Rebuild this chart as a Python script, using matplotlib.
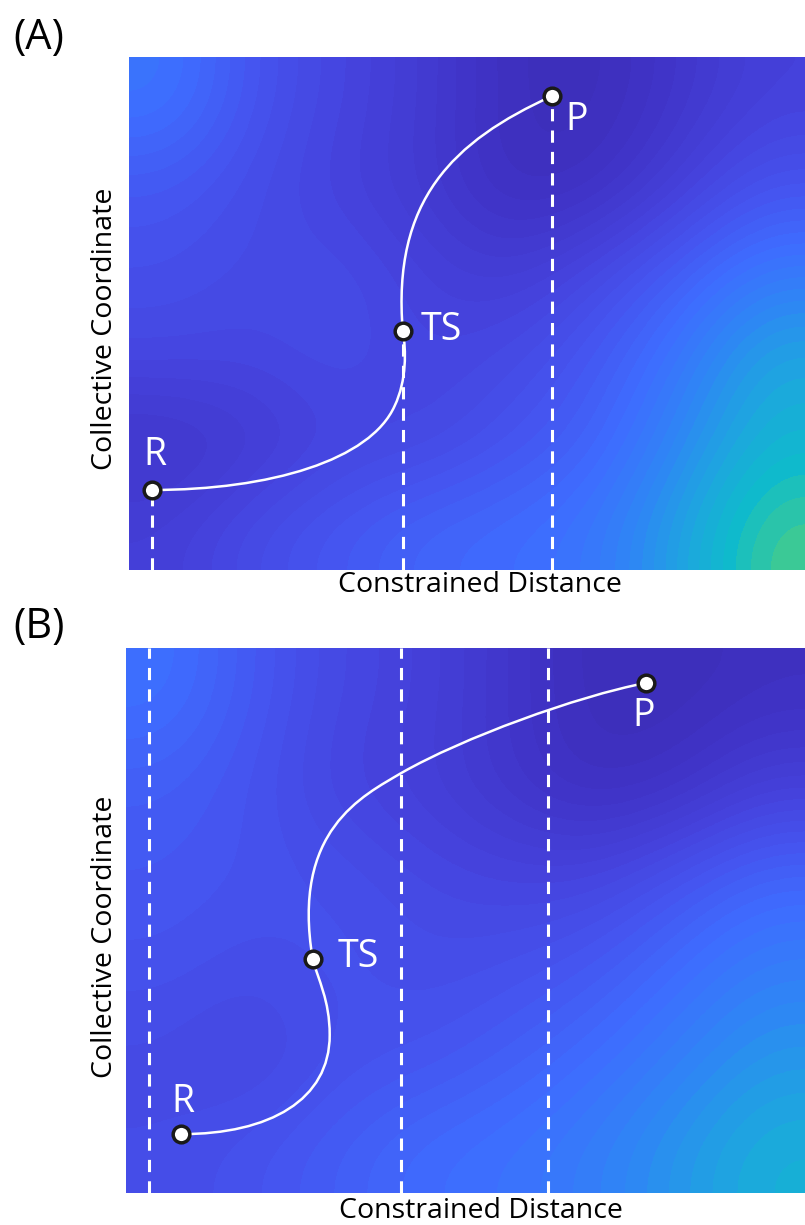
import numpy as np
import matplotlib
matplotlib.use("Agg")
import matplotlib.pyplot as plt
from matplotlib.path import Path
from matplotlib.patches import PathPatch
from matplotlib.colors import LinearSegmentedColormap, BoundaryNorm

plt.rcParams['font.family'] = ['Open Sans', 'DejaVu Sans']

# landscape colour values (rows top -> bottom, cols left -> right)
field_a = [
    [0.60, 0.42, 0.33, 0.25, 0.12, 0.10, 0.20, 0.30],
    [0.45, 0.38, 0.30, 0.24, 0.12, 0.14, 0.28, 0.42],
    [0.40, 0.36, 0.38, 0.30, 0.25, 0.35, 0.48, 0.62],
    [0.35, 0.34, 0.38, 0.32, 0.36, 0.45, 0.60, 0.80],
    [0.18, 0.24, 0.32, 0.34, 0.42, 0.50, 0.68, 0.86],
    [0.28, 0.38, 0.45, 0.52, 0.55, 0.60, 0.78, 0.98],
]
field_b = [
    [0.58, 0.45, 0.35, 0.30, 0.20, 0.10, 0.10, 0.14],
    [0.48, 0.42, 0.32, 0.28, 0.20, 0.12, 0.16, 0.28],
    [0.45, 0.42, 0.40, 0.35, 0.32, 0.32, 0.42, 0.52],
    [0.42, 0.38, 0.42, 0.38, 0.40, 0.45, 0.55, 0.64],
    [0.36, 0.32, 0.40, 0.42, 0.48, 0.55, 0.64, 0.74],
    [0.38, 0.42, 0.48, 0.55, 0.58, 0.64, 0.74, 0.84],
]

# states (x = constrained distance, y = collective coordinate, both 0..1)
states = ["R", "TS", "P"]
states_a = [(0.034, 0.156), (0.405, 0.466), (0.626, 0.924)]
states_b = [(0.081, 0.108), (0.275, 0.429), (0.766, 0.936)]
label_pos_a = [(0.038, 0.224), (0.462, 0.468), (0.662, 0.877)]
label_pos_b = [(0.084, 0.167), (0.342, 0.433), (0.763, 0.875)]

# path as cubic bezier control points
path_a = [(0.034, 0.156),
          (0.209, 0.156), (0.357, 0.214), (0.393, 0.320),
          (0.411, 0.370), (0.410, 0.429), (0.405, 0.466),
          (0.389, 0.721), (0.479, 0.836), (0.626, 0.924)]
path_b = [(0.081, 0.108),
          (0.212, 0.108), (0.300, 0.171), (0.300, 0.290),
          (0.300, 0.354), (0.283, 0.391), (0.275, 0.429),
          (0.243, 0.666), (0.349, 0.729), (0.406, 0.771),
          (0.496, 0.835), (0.663, 0.911), (0.766, 0.936)]

# dashed windows
windows_a = [0.034, 0.405, 0.626]
windows_b = [0.034, 0.405, 0.622]

cmap = LinearSegmentedColormap.from_list("pes", [
    (0.00, "#3a2aa8"), (0.15, "#3f32c4"), (0.30, "#4542dc"),
    (0.42, "#4653ee"), (0.55, "#3f6cff"), (0.68, "#2f86f5"),
    (0.80, "#1ea6e0"), (0.90, "#0fbccb"), (1.00, "#4ccf82")])
norm = BoundaryNorm(np.linspace(0, 1, 41), cmap.N)

fig = plt.figure(figsize=(8.05, 12.25), dpi=100)
ax_a = fig.add_axes([129/805, 1-570/1225, 676/805, 513/1225])
ax_b = fig.add_axes([126/805, 1-1193/1225, 679/805, 545/1225])


def draw(ax, field, pts, path, labels, windows, full):
    ax.imshow(np.array(field), extent=(0, 1, 0, 1), origin='upper', cmap=cmap,
              norm=norm, interpolation='bicubic', aspect='auto', zorder=0)
    for x, (sx, sy) in zip(windows, pts):
        top = 1 if full else sy
        ax.plot([x, x], [0, top], color='white', lw=2.2, ls=(0, (4, 3)), zorder=1)
    codes = [Path.MOVETO] + [Path.CURVE4] * (len(path) - 1)
    ax.add_patch(PathPatch(Path(path, codes), fc='none', ec='white', lw=1.8, zorder=2))
    xs, ys = zip(*pts)
    ax.plot(xs, ys, 'o', ms=12, mfc='white', mec='#1a1a1a', mew=2.5, zorder=3)
    for name, (lx, ly) in zip(states, labels):
        ax.text(lx, ly, name, color='white', fontsize=27, ha='center', va='center', zorder=4)
    ax.set_xlim(0, 1)
    ax.set_ylim(0, 1)
    ax.axis('off')


draw(ax_a, field_a, states_a, path_a, label_pos_a, windows_a, False)
draw(ax_b, field_b, states_b, path_b, label_pos_b, windows_b, True)

fig.text(13/805, 1-38/1225, "(A)", fontsize=30, ha='left', va='center')
fig.text(13/805, 1-627/1225, "(B)", fontsize=30, ha='left', va='center')
fig.text(480/805, 1-585/1225, "Constrained Distance", fontsize=20.5, ha='center', va='center')
fig.text(481/805, 1-1211/1225, "Constrained Distance", fontsize=20.5, ha='center', va='center')
fig.text(105/805, 1-329/1225, "Collective Coordinate", fontsize=20.5, rotation=90, ha='center', va='center')
fig.text(105/805, 1-937/1225, "Collective Coordinate", fontsize=20.5, rotation=90, ha='center', va='center')

fig.savefig("out.png", dpi=100)
